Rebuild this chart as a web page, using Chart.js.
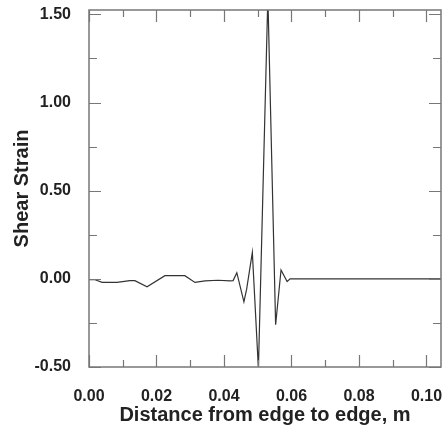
<!DOCTYPE html>
<html lang="en">
<head>
  <meta charset="UTF-8">
  <title>Shear Strain</title>
  <style>
    body {
      margin: 0;
      background: #fff;
    }

    #chartContainer {
      width: 443px;
      height: 434px;
    }
  </style>
</head>
<body>
  <div id="chartContainer">
    <canvas id="strainChart"></canvas>
  </div>

  <script src="https://cdn.jsdelivr.net/npm/chart.js"></script>
  <script>
    // distance along the specimen (m) and the shear strain
    const distance = [0, 0.0018, 0.0039, 0.0083, 0.0121, 0.0136, 0.0172, 0.0225, 0.0284, 0.0314,
      0.0344, 0.0382, 0.0418, 0.0427, 0.0438, 0.0459, 0.0467, 0.0484, 0.0502, 0.0530,
      0.0553, 0.0569, 0.0587, 0.0596, 0.1043];
    const shearStrain = [-0.005, -0.005, -0.02, -0.02, -0.01, -0.01, -0.045, 0.018, 0.018, -0.02,
      -0.012, -0.008, -0.012, -0.01, 0.035, -0.13, -0.06, 0.15, -0.51, 1.6,
      -0.26, 0.05, -0.015, 0.0, 0.0];

    const xTicks = [0, 0.01, 0.02, 0.03, 0.04, 0.05, 0.06, 0.07, 0.08, 0.09, 0.10];
    const xTickLabels = ['0.00', '0.02', '0.04', '0.06', '0.08', '0.10'];
    const yTicks = [-0.5, -0.25, 0, 0.25, 0.5, 0.75, 1.0, 1.25, 1.5];
    const yTickLabels = ['-0.50', '0.00', '0.50', '1.00', '1.50'];

    const points = distance.map((d, i) => ({ x: d, y: shearStrain[i] }));

    function labelFor(value, labels) {
      const found = labels.find(l => Math.abs(parseFloat(l) - value) < 1e-9);
      return found || '';
    }

    // frame round the plot with inward tick marks on all four sides
    const framePlugin = {
      id: 'frame',
      afterDraw(chart) {
        const { ctx, chartArea: a } = chart;
        const xs = chart.scales.x;
        const ys = chart.scales.y;
        ctx.save();
        ctx.strokeStyle = '#777';
        ctx.lineWidth = 1.5;
        ctx.strokeRect(a.left, a.top, a.right - a.left, a.bottom - a.top);
        ctx.lineWidth = 1.2;
        ctx.beginPath();
        xTicks.forEach(v => {
          const px = Math.round(xs.getPixelForValue(v)) + 0.5;
          const len = labelFor(v, xTickLabels) ? 12 : 7;
          ctx.moveTo(px, a.bottom); ctx.lineTo(px, a.bottom - len);
          ctx.moveTo(px, a.top); ctx.lineTo(px, a.top + len);
        });
        yTicks.forEach(v => {
          const py = Math.round(ys.getPixelForValue(v)) + 0.5;
          const len = labelFor(v, yTickLabels) ? 12 : 8;
          ctx.moveTo(a.left, py); ctx.lineTo(a.left + len, py);
          ctx.moveTo(a.right, py); ctx.lineTo(a.right - len, py);
        });
        ctx.stroke();
        ctx.restore();
      }
    };

    const tickFont = { family: '"Liberation Sans", Arial, sans-serif', size: 16, weight: 'bold' };
    const titleFont = { family: '"Liberation Sans", Arial, sans-serif', size: 20, weight: 'bold' };

    const ctx = document.getElementById('strainChart').getContext('2d');
    const strainChart = new Chart(ctx, {
      type: 'line',
      data: {
        datasets: [{
          data: points,
          borderColor: '#333',
          borderWidth: 1.2,
          pointRadius: 0,
          tension: 0,
          fill: false,
        }],
      },
      plugins: [framePlugin],
      options: {
        responsive: true,
        maintainAspectRatio: false,
        animation: false,
        layout: { padding: { top: 10, right: 2, left: 0, bottom: 0 } },
        plugins: {
          legend: { display: false },
          tooltip: { enabled: false },
        },
        scales: {
          x: {
            type: 'linear',
            min: 0,
            max: 0.1043,
            afterBuildTicks: s => { s.ticks = xTicks.map(v => ({ value: v })); },
            afterFit: s => {
              s.height = 67;
              s.paddingLeft = 0;
              s.paddingRight = 0;
            },
            grid: { display: false },
            border: { display: false },
            ticks: {
              padding: 12,
              color: '#222',
              font: tickFont,
              maxRotation: 0,
              autoSkip: false,
              callback: v => labelFor(v, xTickLabels),
            },
            title: {
              display: true,
              text: 'Distance from edge to edge, m',
              color: '#222',
              font: titleFont,
              padding: { top: 0, bottom: 7 },
            },
          },
          y: {
            type: 'linear',
            min: -0.5,
            max: 1.525,
            afterBuildTicks: s => { s.ticks = yTicks.map(v => ({ value: v })); },
            afterFit: s => {
              s.width = 89;
              s.paddingTop = 0;
              s.paddingBottom = 0;
            },
            grid: { display: false },
            border: { display: false },
            ticks: {
              padding: 10,
              color: '#222',
              font: tickFont,
              autoSkip: false,
              callback: v => labelFor(v, yTickLabels),
            },
            title: {
              display: true,
              text: 'Shear Strain',
              color: '#222',
              font: titleFont,
              padding: { top: 10, bottom: 0 },
            },
          },
        },
      },
    });
  </script>
</body>
</html>
